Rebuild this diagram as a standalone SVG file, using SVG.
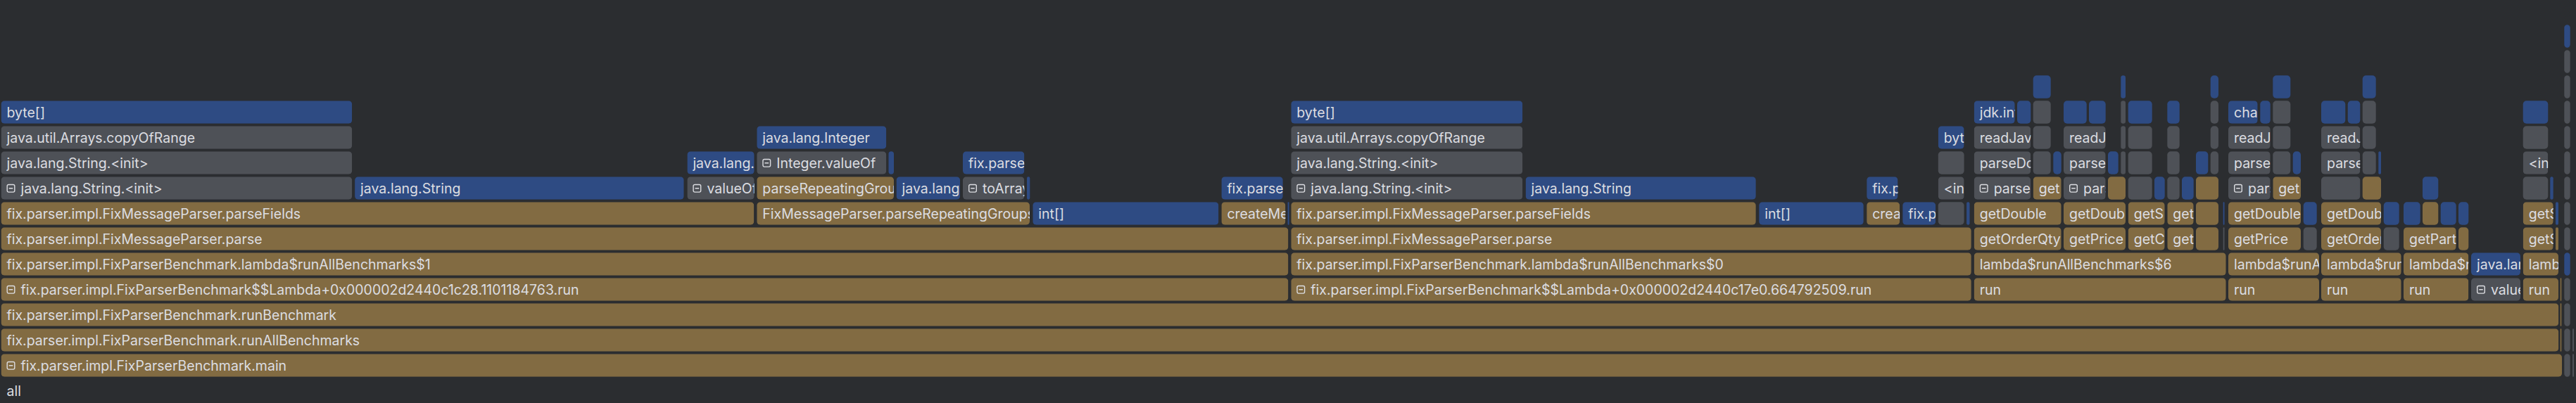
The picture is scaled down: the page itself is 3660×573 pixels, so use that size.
<svg xmlns="http://www.w3.org/2000/svg" xmlns:xlink="http://www.w3.org/1999/xlink" width="3660" height="573" viewBox="0 0 3660 573">
<style>
.bl{fill:#2e4b83}
.gr{fill:#4e5157}
.br{fill:#826b42}
text{font-family:Inter,"Noto Sans","Liberation Sans",sans-serif;font-size:19.5px;fill:#dcdde1}
</style>
<defs>
<g id="ic"><rect x="0.7" y="0.7" width="10.6" height="10.6" rx="2" fill="none" stroke="#dcdde1" stroke-width="1.4"/><line x1="3.2" y1="6" x2="8.8" y2="6" stroke="#dcdde1" stroke-width="1.4"/></g>
</defs>
<rect width="3660" height="573" fill="#2b2d30"/>
<g id="connectors"></g>
<g id="nodes">
<!-- tree 1 -->
<g id="n1"><svg x="1.5" y="143.3" width="498.7" height="32.4"><rect class="bl" width="100%" height="100%" rx="5"/><text x="8" y="24">byte[]</text></svg></g>
<g id="n2"><svg x="1.5" y="179.3" width="498.7" height="32.4"><rect class="gr" width="100%" height="100%" rx="5"/><text x="8" y="24">java.util.Arrays.copyOfRange</text></svg></g>
<g id="n3"><svg x="1.5" y="215.3" width="498.7" height="32.4"><rect class="gr" width="100%" height="100%" rx="5"/><text x="8" y="24">java.lang.String.&lt;init&gt;</text></svg></g>
<g id="n4"><svg x="1.5" y="251.3" width="498.7" height="32.4"><rect class="gr" width="100%" height="100%" rx="5"/><use href="#ic" x="8" y="10.5"/><text x="28" y="24">java.lang.String.&lt;init&gt;</text></svg></g>
<g id="n5"><svg x="504.1" y="251.3" width="467.6" height="32.4"><rect class="bl" width="100%" height="100%" rx="5"/><text x="8" y="24">java.lang.String</text></svg></g>
<g id="n6"><svg x="976.4" y="215.3" width="95.3" height="32.4"><rect class="bl" width="100%" height="100%" rx="5"/><text x="8" y="24">java.lang.</text></svg></g>
<g id="n7"><svg x="976.4" y="251.3" width="95.3" height="32.4"><rect class="gr" width="100%" height="100%" rx="5"/><use href="#ic" x="8" y="10.5"/><text x="28" y="24">valueOf</text></svg></g>
<g id="n8"><svg x="1075.3" y="179.3" width="184" height="32.4"><rect class="bl" width="100%" height="100%" rx="5"/><text x="8" y="24">java.lang.Integer</text></svg></g>
<g id="n9"><svg x="1075.3" y="215.3" width="184" height="32.4"><rect class="gr" width="100%" height="100%" rx="5"/><use href="#ic" x="8" y="10.5"/><text x="28" y="24">Integer.valueOf</text></svg></g>
<g id="n10"><rect class="bl" x="1262.5" y="215.3" width="7.5" height="32.4" rx="3.7"/></g>
<g id="n11"><svg x="1075.3" y="251.3" width="194.7" height="32.4"><rect class="br" width="100%" height="100%" rx="5"/><text x="8" y="24">parseRepeatingGrou</text></svg></g>
<g id="n12"><svg x="1075.3" y="287.3" width="387.7" height="32.4"><rect class="br" width="100%" height="100%" rx="5"/><text x="8" y="24">FixMessageParser.parseRepeatingGroups</text></svg></g>
<g id="n13"><svg x="1273.5" y="251.3" width="90.6" height="32.4"><rect class="bl" width="100%" height="100%" rx="5"/><text x="8" y="24">java.lang</text></svg></g>
<g id="n14"><svg x="1368" y="215.3" width="87.4" height="32.4"><rect class="bl" width="100%" height="100%" rx="5"/><text x="8" y="24">fix.parse</text></svg></g>
<g id="n15"><svg x="1368" y="251.3" width="87.4" height="32.4"><rect class="gr" width="100%" height="100%" rx="5"/><use href="#ic" x="8" y="10.5"/><text x="28" y="24">toArray</text></svg></g>
<g id="n16"><rect class="bl" x="1459" y="251.3" width="4.3" height="32.4" rx="2.1"/></g>
<g id="n17"><svg x="1467.3" y="287.3" width="264.1" height="32.4"><rect class="bl" width="100%" height="100%" rx="5"/><text x="8" y="24">int[]</text></svg></g>
<g id="n18"><svg x="1735.4" y="251.3" width="87.4" height="32.4"><rect class="bl" width="100%" height="100%" rx="5"/><text x="8" y="24">fix.parse</text></svg></g>
<g id="n19"><svg x="1735.4" y="287.3" width="91" height="32.4"><rect class="br" width="100%" height="100%" rx="5"/><text x="8" y="24">createMe</text></svg></g>
<g id="n20"><rect class="bl" x="1829.6" y="287.3" width="2" height="32.4" rx="1"/></g>
<g id="n21"><svg x="1.5" y="287.3" width="1069.8" height="32.4"><rect class="br" width="100%" height="100%" rx="5"/><text x="8" y="24">fix.parser.impl.FixMessageParser.parseFields</text></svg></g>
<g id="n22"><svg x="1.5" y="323.3" width="1828.9" height="32.4"><rect class="br" width="100%" height="100%" rx="5"/><text x="8" y="24">fix.parser.impl.FixMessageParser.parse</text></svg></g>
<g id="n23"><svg x="1.5" y="359.3" width="1828.9" height="32.4"><rect class="br" width="100%" height="100%" rx="5"/><text x="8" y="24">fix.parser.impl.FixParserBenchmark.lambda$runAllBenchmarks$1</text></svg></g>
<g id="n24"><svg x="1.5" y="395.3" width="1828.9" height="32.4"><rect class="br" width="100%" height="100%" rx="5"/><use href="#ic" x="8" y="10.5"/><text x="28" y="24">fix.parser.impl.FixParserBenchmark$$Lambda+0x000002d2440c1c28.1101184763.run</text></svg></g>
<g id="n25"><svg x="1.5" y="431.3" width="3633.8" height="32.4"><rect class="br" width="100%" height="100%" rx="5"/><text x="8" y="24">fix.parser.impl.FixParserBenchmark.runBenchmark</text></svg></g>
<g id="n26"><svg x="1.5" y="467.3" width="3633.8" height="32.4"><rect class="br" width="100%" height="100%" rx="5"/><text x="8" y="24">fix.parser.impl.FixParserBenchmark.runAllBenchmarks</text></svg></g>
<g id="n27"><svg x="1.5" y="503.3" width="3638.5" height="32.4"><rect class="br" width="100%" height="100%" rx="5"/><use href="#ic" x="8" y="10.5"/><text x="28" y="24">fix.parser.impl.FixParserBenchmark.main</text></svg></g>
<!-- tree 2 -->
<g id="n28"><svg x="1834.3" y="143.3" width="329" height="32.4"><rect class="bl" width="100%" height="100%" rx="5"/><text x="8" y="24">byte[]</text></svg></g>
<g id="n29"><svg x="1834.3" y="179.3" width="329" height="32.4"><rect class="gr" width="100%" height="100%" rx="5"/><text x="8" y="24">java.util.Arrays.copyOfRange</text></svg></g>
<g id="n30"><svg x="1834.3" y="215.3" width="329" height="32.4"><rect class="gr" width="100%" height="100%" rx="5"/><text x="8" y="24">java.lang.String.&lt;init&gt;</text></svg></g>
<g id="n31"><svg x="1834.3" y="251.3" width="329" height="32.4"><rect class="gr" width="100%" height="100%" rx="5"/><use href="#ic" x="8" y="10.5"/><text x="28" y="24">java.lang.String.&lt;init&gt;</text></svg></g>
<g id="n32"><svg x="2167.6" y="251.3" width="327.2" height="32.4"><rect class="bl" width="100%" height="100%" rx="5"/><text x="8" y="24">java.lang.String</text></svg></g>
<g id="n33"><svg x="1834.3" y="287.3" width="660.5" height="32.4"><rect class="br" width="100%" height="100%" rx="5"/><text x="8" y="24">fix.parser.impl.FixMessageParser.parseFields</text></svg></g>
<g id="n34"><svg x="2499.2" y="287.3" width="148.6" height="32.4"><rect class="bl" width="100%" height="100%" rx="5"/><text x="8" y="24">int[]</text></svg></g>
<g id="n35"><svg x="2652.2" y="251.3" width="44.3" height="32.4"><rect class="bl" width="100%" height="100%" rx="5"/><text x="8" y="24">fix.p</text></svg></g>
<g id="n36"><svg x="2652.2" y="287.3" width="47" height="32.4"><rect class="br" width="100%" height="100%" rx="5"/><text x="8" y="24">crea</text></svg></g>
<g id="n37"><svg x="2703.2" y="287.3" width="47" height="32.4"><rect class="bl" width="100%" height="100%" rx="5"/><text x="8" y="24">fix.p</text></svg></g>
<g id="n38"><svg x="2753.8" y="179.3" width="36.8" height="32.4"><rect class="bl" width="100%" height="100%" rx="5"/><text x="8" y="24">byt</text></svg></g>
<g id="n39"><rect class="gr" x="2753.8" y="215.3" width="36.8" height="32.4" rx="5"/></g>
<g id="n40"><svg x="2753.8" y="251.3" width="36.8" height="32.4"><rect class="gr" width="100%" height="100%" rx="5"/><text x="8" y="24">&lt;in</text></svg></g>
<g id="n41"><rect class="gr" x="2753.8" y="287.3" width="36.8" height="32.4" rx="5"/></g>
<g id="n42"><rect class="bl" x="2794.1" y="287.3" width="4.4" height="32.4" rx="2.2"/></g>
<g id="n43"><svg x="1834.3" y="323.3" width="966.5" height="32.4"><rect class="br" width="100%" height="100%" rx="5"/><text x="8" y="24">fix.parser.impl.FixMessageParser.parse</text></svg></g>
<g id="n44"><svg x="1834.3" y="359.3" width="966.5" height="32.4"><rect class="br" width="100%" height="100%" rx="5"/><text x="8" y="24">fix.parser.impl.FixParserBenchmark.lambda$runAllBenchmarks$0</text></svg></g>
<g id="n45"><svg x="1834.3" y="395.3" width="966.5" height="32.4"><rect class="br" width="100%" height="100%" rx="5"/><use href="#ic" x="8" y="10.5"/><text x="28" y="24">fix.parser.impl.FixParserBenchmark$$Lambda+0x000002d2440c17e0.664792509.run</text></svg></g>
<!-- tree 3 : right column -->
<g id="n46"><rect class="bl" x="3643.3" y="35.3" width="8.4" height="32.4" rx="4.2"/></g>
<g id="n47"><rect class="gr" x="3643.3" y="71.3" width="8.4" height="32.4" rx="4.2"/></g>
<g id="n48"><rect class="gr" x="3643.3" y="107.3" width="8.4" height="32.4" rx="4.2"/></g>
<g id="n49"><rect class="gr" x="3643.3" y="143.3" width="8.4" height="32.4" rx="4.2"/></g>
<g id="n50"><rect class="gr" x="3643.3" y="179.3" width="8.4" height="32.4" rx="4.2"/></g>
<g id="n51"><rect class="gr" x="3643.3" y="215.3" width="8.4" height="32.4" rx="4.2"/></g>
<g id="n52"><rect class="gr" x="3643.3" y="251.3" width="8.4" height="32.4" rx="4.2"/></g>
<g id="n53"><rect class="gr" x="3643.3" y="287.3" width="8.4" height="32.4" rx="4.2"/></g>
<g id="n54"><rect class="gr" x="3643.3" y="323.3" width="8.4" height="32.4" rx="4.2"/></g>
<g id="n55"><rect class="bl" x="3643.3" y="359.3" width="8.4" height="32.4" rx="4.2"/></g>
<g id="n56"><rect class="gr" x="3643.3" y="395.3" width="8.4" height="32.4" rx="4.2"/></g>
<g id="n57"><rect class="gr" x="3643.3" y="431.3" width="8.4" height="32.4" rx="4.2"/></g>
<g id="n58"><rect class="gr" x="3643.3" y="467.3" width="8.4" height="32.4" rx="4.2"/></g>
<g id="n59"><rect class="gr" x="3643.3" y="503.3" width="8.4" height="32.4" rx="4.2"/></g>
<g id="n60"><rect class="gr" x="3655" y="467.3" width="2" height="32.4" rx="1"/></g>
<g id="n61"><rect class="gr" x="3655" y="503.3" width="2" height="32.4" rx="1"/></g>
<g id="n62"><rect class="br" x="3637.7" y="395.3" width="1.6" height="32.4" rx="0.8"/></g>
<g id="n63"><rect class="br" x="3637.7" y="431.3" width="1.6" height="32.4" rx="0.8"/></g>
<g id="n64"><rect class="br" x="3637.7" y="467.3" width="1.6" height="32.4" rx="0.8"/></g>
<!-- row 107 -->
<g id="n65"><rect class="bl" x="2888.7" y="107.3" width="25" height="32.4" rx="5"/></g>
<g id="n66"><rect class="bl" x="3013.3" y="107.3" width="6.7" height="32.4" rx="3.3"/></g>
<g id="n67"><rect class="bl" x="3140.7" y="107.3" width="11.3" height="32.4" rx="5"/></g>
<g id="n68"><rect class="bl" x="3229.3" y="107.3" width="25" height="32.4" rx="5"/></g>
<g id="n69"><rect class="bl" x="3356.7" y="107.3" width="19" height="32.4" rx="5"/></g>
<!-- row 143 -->
<g id="n70"><svg x="2804.7" y="143.3" width="58" height="32.4"><rect class="bl" width="100%" height="100%" rx="5"/><text x="8" y="24">jdk.int</text></svg></g>
<g id="n71"><rect class="bl" x="2866" y="143.3" width="19.3" height="32.4" rx="5"/></g>
<g id="n72"><rect class="gr" x="2888.7" y="143.3" width="25" height="32.4" rx="5"/></g>
<g id="n73"><rect class="bl" x="2932" y="143.3" width="32.7" height="32.4" rx="5"/></g>
<g id="n74"><rect class="bl" x="2968" y="143.3" width="23.7" height="32.4" rx="5"/></g>
<g id="n75"><rect class="gr" x="3013.3" y="143.3" width="6.7" height="32.4" rx="3.3"/></g>
<g id="n76"><rect class="bl" x="3023.7" y="143.3" width="34" height="32.4" rx="5"/></g>
<g id="n77"><rect class="bl" x="3079.3" y="143.3" width="17.4" height="32.4" rx="5"/></g>
<g id="n78"><rect class="gr" x="3140.7" y="143.3" width="11.3" height="32.4" rx="5"/></g>
<g id="n79"><svg x="3166" y="143.3" width="41.7" height="32.4"><rect class="bl" width="100%" height="100%" rx="5"/><text x="8" y="24">cha</text></svg></g>
<g id="n80"><rect class="bl" x="3211.3" y="143.3" width="14.4" height="32.4" rx="5"/></g>
<g id="n81"><rect class="gr" x="3229.3" y="143.3" width="25" height="32.4" rx="5"/></g>
<g id="n82"><rect class="bl" x="3298" y="143.3" width="34.3" height="32.4" rx="5"/></g>
<g id="n83"><rect class="bl" x="3335.7" y="143.3" width="17.6" height="32.4" rx="5"/></g>
<g id="n84"><rect class="gr" x="3356.7" y="143.3" width="19" height="32.4" rx="5"/></g>
<g id="n85"><rect class="bl" x="3584.7" y="143.3" width="35.6" height="32.4" rx="5"/></g>
<!-- row 179 -->
<g id="n86"><svg x="2804.7" y="179.3" width="80.6" height="32.4"><rect class="gr" width="100%" height="100%" rx="5"/><text x="8" y="24">readJav</text></svg></g>
<g id="n87"><rect class="gr" x="2888.7" y="179.3" width="25" height="32.4" rx="5"/></g>
<g id="n88"><svg x="2932" y="179.3" width="59.7" height="32.4"><rect class="gr" width="100%" height="100%" rx="5"/><text x="8" y="24">readJ</text></svg></g>
<g id="n89"><rect class="gr" x="3013.3" y="179.3" width="6.7" height="32.4" rx="3.3"/></g>
<g id="n90"><rect class="gr" x="3023.7" y="179.3" width="34" height="32.4" rx="5"/></g>
<g id="n91"><rect class="gr" x="3079.3" y="179.3" width="17.4" height="32.4" rx="5"/></g>
<g id="n92"><rect class="gr" x="3140.7" y="179.3" width="11.3" height="32.4" rx="5"/></g>
<g id="n93"><svg x="3166" y="179.3" width="59.7" height="32.4"><rect class="gr" width="100%" height="100%" rx="5"/><text x="8" y="24">readJ</text></svg></g>
<g id="n94"><rect class="gr" x="3229.3" y="179.3" width="25" height="32.4" rx="5"/></g>
<g id="n95"><svg x="3298" y="179.3" width="55.3" height="32.4"><rect class="gr" width="100%" height="100%" rx="5"/><text x="8" y="24">readJ</text></svg></g>
<g id="n96"><rect class="gr" x="3356.7" y="179.3" width="19" height="32.4" rx="5"/></g>
<g id="n97"><rect class="gr" x="3584.7" y="179.3" width="35.6" height="32.4" rx="5"/></g>
<!-- row 215 -->
<g id="n98"><svg x="2804.7" y="215.3" width="80.6" height="32.4"><rect class="gr" width="100%" height="100%" rx="5"/><text x="8" y="24">parseDo</text></svg></g>
<g id="n99"><rect class="gr" x="2888.7" y="215.3" width="25" height="32.4" rx="5"/></g>
<g id="n100"><rect class="bl" x="2917.3" y="215.3" width="11.4" height="32.4" rx="5"/></g>
<g id="n101"><svg x="2932" y="215.3" width="59.7" height="32.4"><rect class="gr" width="100%" height="100%" rx="5"/><text x="8" y="24">parse</text></svg></g>
<g id="n102"><rect class="bl" x="2995" y="215.3" width="14.7" height="32.4" rx="5"/></g>
<g id="n103"><rect class="gr" x="3013.3" y="215.3" width="6.7" height="32.4" rx="3.3"/></g>
<g id="n104"><rect class="gr" x="3023.7" y="215.3" width="34" height="32.4" rx="5"/></g>
<g id="n105"><rect class="gr" x="3079.3" y="215.3" width="17.4" height="32.4" rx="5"/></g>
<g id="n106"><rect class="bl" x="3120" y="215.3" width="17.3" height="32.4" rx="5"/></g>
<g id="n107"><rect class="gr" x="3140.7" y="215.3" width="11.3" height="32.4" rx="5"/></g>
<g id="n108"><svg x="3166" y="215.3" width="59.7" height="32.4"><rect class="gr" width="100%" height="100%" rx="5"/><text x="8" y="24">parse</text></svg></g>
<g id="n109"><rect class="gr" x="3229.3" y="215.3" width="25" height="32.4" rx="5"/></g>
<g id="n110"><rect class="bl" x="3257.7" y="215.3" width="11.3" height="32.4" rx="5"/></g>
<g id="n111"><svg x="3298" y="215.3" width="55.3" height="32.4"><rect class="gr" width="100%" height="100%" rx="5"/><text x="8" y="24">parse</text></svg></g>
<g id="n112"><rect class="gr" x="3356.7" y="215.3" width="19" height="32.4" rx="5"/></g>
<g id="n113"><rect class="bl" x="3379.3" y="215.3" width="3.7" height="32.4" rx="1.8"/></g>
<g id="n114"><svg x="3584.7" y="215.3" width="35.6" height="32.4"><rect class="gr" width="100%" height="100%" rx="5"/><text x="8" y="24">&lt;in</text></svg></g>
<!-- row 251 -->
<g id="n115"><svg x="2804.7" y="251.3" width="80.6" height="32.4"><rect class="gr" width="100%" height="100%" rx="5"/><use href="#ic" x="8" y="10.5"/><text x="28" y="24">parseD</text></svg></g>
<g id="n116"><svg x="2888.7" y="251.3" width="40" height="32.4"><rect class="br" width="100%" height="100%" rx="5"/><text x="8" y="24">get</text></svg></g>
<g id="n117"><svg x="2932" y="251.3" width="59.7" height="32.4"><rect class="gr" width="100%" height="100%" rx="5"/><use href="#ic" x="8" y="10.5"/><text x="28" y="24">pars</text></svg></g>
<g id="n118"><rect class="br" x="2995" y="251.3" width="25" height="32.4" rx="5"/></g>
<g id="n119"><rect class="gr" x="3023.7" y="251.3" width="34" height="32.4" rx="5"/></g>
<g id="n120"><rect class="bl" x="3061" y="251.3" width="14.7" height="32.4" rx="5"/></g>
<g id="n121"><rect class="gr" x="3079.3" y="251.3" width="17.4" height="32.4" rx="5"/></g>
<g id="n122"><rect class="bl" x="3100" y="251.3" width="16.7" height="32.4" rx="5"/></g>
<g id="n123"><rect class="br" x="3120" y="251.3" width="32" height="32.4" rx="5"/></g>
<g id="n124"><svg x="3166" y="251.3" width="59.7" height="32.4"><rect class="gr" width="100%" height="100%" rx="5"/><use href="#ic" x="8" y="10.5"/><text x="28" y="24">pars</text></svg></g>
<g id="n125"><svg x="3229.3" y="251.3" width="39.7" height="32.4"><rect class="br" width="100%" height="100%" rx="5"/><text x="8" y="24">get</text></svg></g>
<g id="n126"><rect class="gr" x="3298" y="251.3" width="55.3" height="32.4" rx="5"/></g>
<g id="n127"><rect class="br" x="3356.7" y="251.3" width="26.3" height="32.4" rx="5"/></g>
<g id="n128"><rect class="bl" x="3442" y="251.3" width="22.3" height="32.4" rx="5"/></g>
<g id="n129"><rect class="gr" x="3584.7" y="251.3" width="35.6" height="32.4" rx="5"/></g>
<g id="n130"><rect class="bl" x="3623.3" y="251.3" width="4.4" height="32.4" rx="2.2"/></g>
<!-- row 287 -->
<g id="n131"><svg x="2804.7" y="287.3" width="124" height="32.4"><rect class="br" width="100%" height="100%" rx="5"/><text x="8" y="24">getDouble</text></svg></g>
<g id="n132"><svg x="2932" y="287.3" width="88" height="32.4"><rect class="br" width="100%" height="100%" rx="5"/><text x="8" y="24">getDoub</text></svg></g>
<g id="n133"><svg x="3023.7" y="287.3" width="52" height="32.4"><rect class="br" width="100%" height="100%" rx="5"/><text x="8" y="24">getS</text></svg></g>
<g id="n134"><svg x="3079.3" y="287.3" width="37.4" height="32.4"><rect class="br" width="100%" height="100%" rx="5"/><text x="8" y="24">get</text></svg></g>
<g id="n135"><rect class="br" x="3120" y="287.3" width="32" height="32.4" rx="5"/></g>
<g id="n136"><rect class="bl" x="3158.7" y="287.3" width="1.8" height="32.4" rx="0.9"/></g>
<g id="n137"><svg x="3166" y="287.3" width="103" height="32.4"><rect class="br" width="100%" height="100%" rx="5"/><text x="8" y="24">getDouble</text></svg></g>
<g id="n138"><rect class="bl" x="3272.7" y="287.3" width="19" height="32.4" rx="5"/></g>
<g id="n139"><svg x="3298" y="287.3" width="85" height="32.4"><rect class="br" width="100%" height="100%" rx="5"/><text x="8" y="24">getDoub</text></svg></g>
<g id="n140"><rect class="bl" x="3386.7" y="287.3" width="22" height="32.4" rx="5"/></g>
<g id="n141"><rect class="bl" x="3415" y="287.3" width="23.7" height="32.4" rx="5"/></g>
<g id="n142"><rect class="br" x="3442" y="287.3" width="22.3" height="32.4" rx="5"/></g>
<g id="n143"><rect class="bl" x="3467.7" y="287.3" width="22" height="32.4" rx="5"/></g>
<g id="n144"><rect class="bl" x="3493" y="287.3" width="14.3" height="32.4" rx="5"/></g>
<g id="n145"><svg x="3584.7" y="287.3" width="43" height="32.4"><rect class="br" width="100%" height="100%" rx="5"/><text x="8" y="24">getS</text></svg></g>
<g id="n146"><rect class="bl" x="3631" y="287.3" width="4" height="32.4" rx="2"/></g>
<!-- row 323 -->
<g id="n147"><svg x="2804.7" y="323.3" width="124" height="32.4"><rect class="br" width="100%" height="100%" rx="5"/><text x="8" y="24">getOrderQty</text></svg></g>
<g id="n148"><svg x="2932" y="323.3" width="88" height="32.4"><rect class="br" width="100%" height="100%" rx="5"/><text x="8" y="24">getPrice</text></svg></g>
<g id="n149"><svg x="3023.7" y="323.3" width="52" height="32.4"><rect class="br" width="100%" height="100%" rx="5"/><text x="8" y="24">getC</text></svg></g>
<g id="n150"><svg x="3079.3" y="323.3" width="37.4" height="32.4"><rect class="br" width="100%" height="100%" rx="5"/><text x="8" y="24">get</text></svg></g>
<g id="n151"><rect class="br" x="3120" y="323.3" width="32" height="32.4" rx="5"/></g>
<g id="n152"><rect class="gr" x="3158.7" y="323.3" width="1.8" height="32.4" rx="0.9"/></g>
<g id="n153"><svg x="3166" y="323.3" width="103" height="32.4"><rect class="br" width="100%" height="100%" rx="5"/><text x="8" y="24">getPrice</text></svg></g>
<g id="n154"><rect class="gr" x="3272.7" y="323.3" width="19" height="32.4" rx="5"/></g>
<g id="n155"><svg x="3298" y="323.3" width="85" height="32.4"><rect class="br" width="100%" height="100%" rx="5"/><text x="8" y="24">getOrder</text></svg></g>
<g id="n156"><rect class="gr" x="3386.7" y="323.3" width="22" height="32.4" rx="5"/></g>
<g id="n157"><svg x="3415" y="323.3" width="74.7" height="32.4"><rect class="br" width="100%" height="100%" rx="5"/><text x="8" y="24">getPart</text></svg></g>
<g id="n158"><rect class="br" x="3493" y="323.3" width="14.3" height="32.4" rx="5"/></g>
<g id="n159"><svg x="3584.7" y="323.3" width="43" height="32.4"><rect class="br" width="100%" height="100%" rx="5"/><text x="8" y="24">getS</text></svg></g>
<g id="n160"><rect class="br" x="3631" y="323.3" width="4" height="32.4" rx="2"/></g>
<!-- row 359 -->
<g id="n161"><svg x="2804.7" y="359.3" width="358" height="32.4"><rect class="br" width="100%" height="100%" rx="5"/><text x="8" y="24">lambda$runAllBenchmarks$6</text></svg></g>
<g id="n162"><svg x="3166" y="359.3" width="129" height="32.4"><rect class="br" width="100%" height="100%" rx="5"/><text x="8" y="24">lambda$runA</text></svg></g>
<g id="n163"><svg x="3298" y="359.3" width="113.7" height="32.4"><rect class="br" width="100%" height="100%" rx="5"/><text x="8" y="24">lambda$run</text></svg></g>
<g id="n164"><svg x="3415" y="359.3" width="92.3" height="32.4"><rect class="br" width="100%" height="100%" rx="5"/><text x="8" y="24">lambda$r</text></svg></g>
<g id="n165"><svg x="3511" y="359.3" width="70" height="32.4"><rect class="bl" width="100%" height="100%" rx="5"/><text x="8" y="24">java.lan</text></svg></g>
<g id="n166"><svg x="3584.7" y="359.3" width="50.3" height="32.4"><rect class="br" width="100%" height="100%" rx="5"/><text x="8" y="24">lamb</text></svg></g>
<!-- row 395 -->
<g id="n167"><svg x="2804.7" y="395.3" width="358" height="32.4"><rect class="br" width="100%" height="100%" rx="5"/><text x="8" y="24">run</text></svg></g>
<g id="n168"><svg x="3166" y="395.3" width="129" height="32.4"><rect class="br" width="100%" height="100%" rx="5"/><text x="8" y="24">run</text></svg></g>
<g id="n169"><svg x="3298" y="395.3" width="113.7" height="32.4"><rect class="br" width="100%" height="100%" rx="5"/><text x="8" y="24">run</text></svg></g>
<g id="n170"><svg x="3415" y="395.3" width="92.3" height="32.4"><rect class="br" width="100%" height="100%" rx="5"/><text x="8" y="24">run</text></svg></g>
<g id="n171"><svg x="3511" y="395.3" width="70" height="32.4"><rect class="gr" width="100%" height="100%" rx="5"/><use href="#ic" x="8" y="10.5"/><text x="28" y="24">value</text></svg></g>
<g id="n172"><svg x="3584.7" y="395.3" width="50.3" height="32.4"><rect class="br" width="100%" height="100%" rx="5"/><text x="8" y="24">run</text></svg></g>
</g>
<g id="root"><text x="9.5" y="563.3">all</text></g>
</svg>
